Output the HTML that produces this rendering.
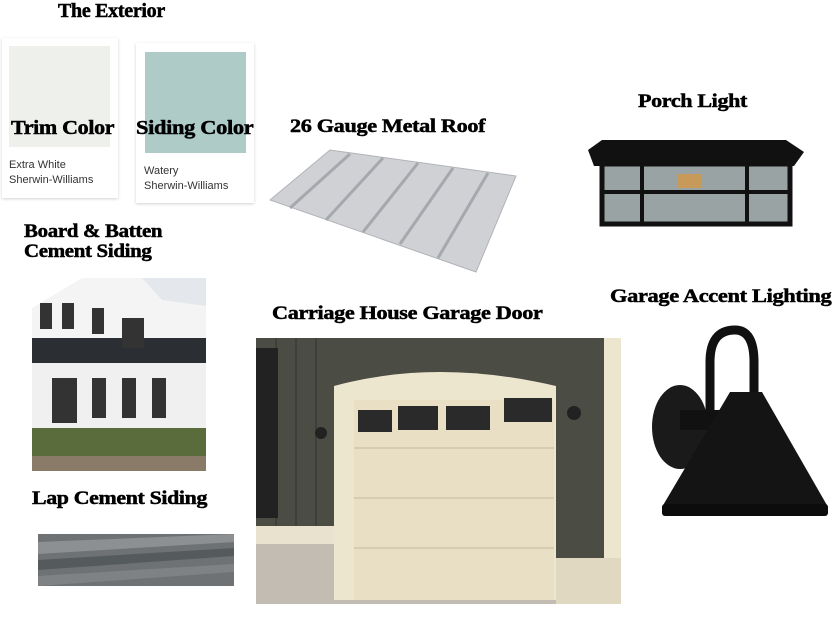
<!DOCTYPE html>
<html><head><style>
body{margin:0;width:840px;height:622px;background:#fff;position:relative;overflow:hidden;font-family:"Liberation Sans",sans-serif}
.t{position:absolute;font-family:"Liberation Serif",serif;font-weight:bold;color:#000;white-space:nowrap;letter-spacing:-0.3px;transform-origin:0 0;transform:scaleX(1.15);-webkit-text-stroke:0.5px #000}
.card{position:absolute;background:#fff;box-shadow:0 1px 3px rgba(0,0,0,.18)}
.sm{position:absolute;font-size:11px;color:#333;line-height:15px}
</style></head><body>
<div class="t" style="left:58px;top:0;font-size:20px;transform:scaleX(1.0)">The Exterior</div>

<div class="card" style="left:2px;top:38px;width:116px;height:160px"></div>
<div style="position:absolute;left:9px;top:46px;width:101px;height:101px;background:#eef0eb"></div>
<div class="card" style="left:136px;top:43px;width:118px;height:160px"></div>
<div style="position:absolute;left:145px;top:52px;width:101px;height:101px;background:#aecbc8"></div>
<div class="t" style="left:11px;top:117px;font-size:20px;transform:scaleX(1.1)">Trim Color</div>
<div class="t" style="left:136px;top:117px;font-size:20px;transform:scaleX(1.12)">Siding Color</div>
<div class="sm" style="left:9px;top:158px">Extra White<br>Sherwin-Williams</div>
<div class="sm" style="left:144px;top:164px">Watery<br>Sherwin-Williams</div>

<div class="t" style="left:290px;top:116px;font-size:19px;transform:scaleX(1.17)">26 Gauge Metal Roof</div>
<svg style="position:absolute;left:268px;top:148px" width="250" height="126">
<polygon points="2,52 62,2 248,28 208,124" fill="#cfd1d4" stroke="#b0b3b7"/>
<g stroke="#a5a8ac" stroke-width="3">
<line x1="22" y1="60" x2="82" y2="6"/><line x1="58" y1="72" x2="115" y2="10"/><line x1="95" y1="84" x2="150" y2="15"/><line x1="132" y1="96" x2="185" y2="20"/><line x1="170" y1="110" x2="220" y2="25"/>
</g></svg>

<div class="t" style="left:638px;top:91px;font-size:19px;transform:scaleX(1.16)">Porch Light</div>
<svg style="position:absolute;left:580px;top:138px" width="228" height="90">
<polygon points="8,12 22,2 206,2 224,14 214,28 14,28" fill="#111"/>
<rect x="22" y="26" width="188" height="60" fill="#9aa3a3" stroke="#111" stroke-width="5"/>
<rect x="60" y="26" width="4" height="60" fill="#111"/><rect x="165" y="26" width="4" height="60" fill="#111"/>
<rect x="22" y="52" width="188" height="4" fill="#111"/>
<rect x="98" y="36" width="24" height="14" fill="#c89a5a"/>
</svg>

<div class="t" style="left:24px;top:222px;font-size:19px;line-height:20px;transform:scaleX(1.1)">Board &amp; Batten<br>Cement Siding</div>
<svg style="position:absolute;left:32px;top:278px" width="174" height="193">
<rect width="174" height="193" fill="#e4e8ec"/>
<polygon points="0,20 30,0 110,0 130,22 174,28 174,60 0,60" fill="#f4f4f4"/>
<polygon points="0,0 50,0 0,30" fill="#fff"/>
<rect x="0" y="60" width="174" height="25" fill="#2b2e33"/>
<rect x="0" y="85" width="174" height="80" fill="#f0f0f0"/>
<g fill="#333"><rect x="8" y="25" width="12" height="26"/><rect x="30" y="25" width="12" height="26"/><rect x="60" y="30" width="12" height="26"/><rect x="90" y="40" width="22" height="30"/>
<rect x="20" y="100" width="25" height="45"/><rect x="60" y="100" width="14" height="40"/><rect x="90" y="100" width="14" height="40"/><rect x="120" y="100" width="14" height="40"/></g>
<rect x="0" y="150" width="174" height="43" fill="#5a6b3c"/>
<rect x="0" y="178" width="174" height="15" fill="#8a7a68"/>
</svg>

<div class="t" style="left:272px;top:303px;font-size:19px;transform:scaleX(1.17)">Carriage House Garage Door</div>
<svg style="position:absolute;left:256px;top:338px" width="365" height="266">
<rect width="365" height="266" fill="#4b4d45"/>
<g stroke="#3d3f38" stroke-width="2"><line x1="20" y1="0" x2="20" y2="266"/><line x1="40" y1="0" x2="40" y2="266"/><line x1="60" y1="0" x2="60" y2="266"/><line x1="310" y1="0" x2="310" y2="266"/><line x1="330" y1="0" x2="330" y2="266"/></g>
<rect x="0" y="10" width="22" height="170" fill="#222"/>
<rect x="0" y="188" width="80" height="18" fill="#e8e2cf"/>
<rect x="0" y="206" width="365" height="60" fill="#c2bcb2"/>
<path d="M78,48 Q180,20 300,48 L300,262 L78,262 Z" fill="#ede6cf"/>
<rect x="98" y="62" width="200" height="200" fill="#e8dfc4"/>
<g fill="#2a2a2a"><rect x="102" y="72" width="34" height="22"/><rect x="142" y="68" width="40" height="24"/><rect x="190" y="68" width="44" height="24"/><rect x="248" y="60" width="48" height="24"/></g>
<g stroke="#d6ccb0" stroke-width="2"><line x1="98" y1="110" x2="298" y2="110"/><line x1="98" y1="160" x2="298" y2="160"/><line x1="98" y1="210" x2="298" y2="210"/></g>
<rect x="300" y="0" width="65" height="220" fill="#4b4d45"/>
<rect x="348" y="0" width="17" height="225" fill="#ede6cf"/>
<rect x="300" y="220" width="65" height="46" fill="#e0d8c0"/>
<circle cx="65" cy="95" r="6" fill="#222"/><circle cx="318" cy="75" r="7" fill="#222"/>
</svg>

<div class="t" style="left:610px;top:286px;font-size:19px;transform:scaleX(1.18)">Garage Accent Lighting</div>
<svg style="position:absolute;left:650px;top:322px" width="182" height="196">
<path d="M60,90 L60,40 Q60,8 85,8 Q104,8 104,40 L104,70" fill="none" stroke="#111" stroke-width="9"/>
<ellipse cx="30" cy="105" rx="28" ry="42" fill="#1a1a1a"/>
<rect x="30" y="88" width="50" height="20" fill="#111"/>
<polygon points="80,70 112,70 178,185 12,185" fill="#141414"/>
<rect x="12" y="182" width="166" height="12" rx="3" fill="#0c0c0c"/>
</svg>

<div class="t" style="left:32px;top:488px;font-size:19px;transform:scaleX(1.15)">Lap Cement Siding</div>
<svg style="position:absolute;left:38px;top:534px" width="196" height="52">
<rect width="196" height="52" fill="#6e7275"/>
<polygon points="0,8 196,0 196,8 0,20" fill="#8c9093"/>
<polygon points="0,26 196,14 196,22 0,36" fill="#555a5d"/>
<polygon points="0,42 196,30 196,38 0,52" fill="#7e8285"/>
</svg>
</body></html>
